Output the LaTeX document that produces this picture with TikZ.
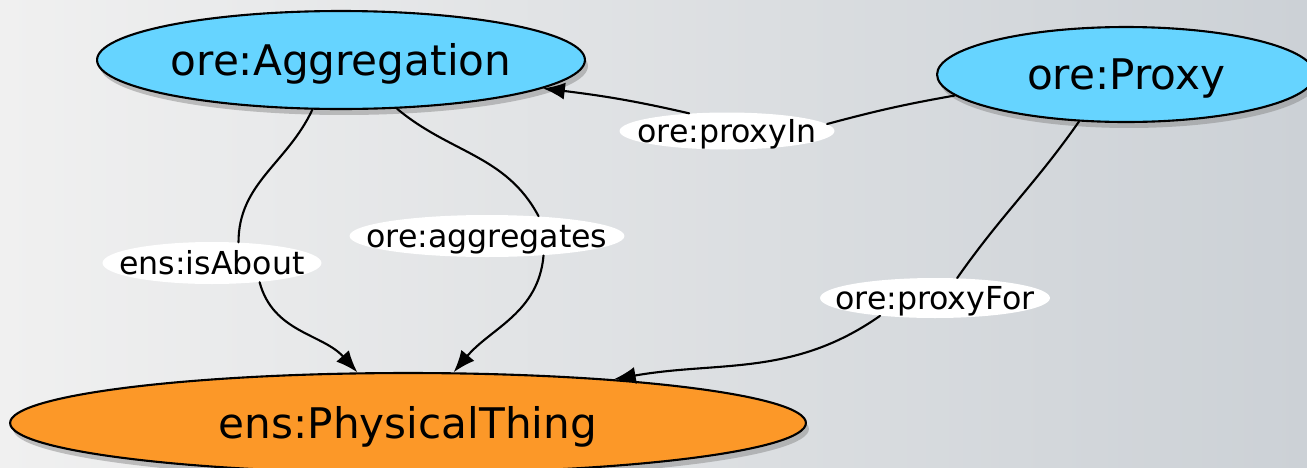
\documentclass[tikz,border=0pt]{standalone}
\usepackage{fontspec}
\setmainfont{DejaVu Sans}
\usepackage{tikz}
\usetikzlibrary{shapes.geometric,arrows.meta,shadows}
\definecolor{classblue}{RGB}{102,212,255}
\definecolor{thingorange}{RGB}{252,152,40}
\definecolor{photolight}{RGB}{240,240,240}
\definecolor{photodark}{RGB}{204,209,214}
\tikzset{>={Latex[length=0.44cm,width=0.34cm]}}
\tikzset{
	classnode/.style={ellipse,draw=black,line width=1.2pt,fill=classblue,inner xsep=-3cm,inner ysep=-1cm,
		text height=17.5pt,text depth=0pt,font=\fontsize{24}{28}\selectfont,
		drop shadow={shadow xshift=0.06cm,shadow yshift=-0.12cm,opacity=0.45}},
	thingnode/.style={classnode,fill=thingorange},
	propnode/.style={ellipse,fill=white,inner xsep=-3cm,inner ysep=-1cm,
		text height=13.1pt,text depth=0pt,font=\fontsize{18}{21}\selectfont},
	edge/.style={line width=1.2pt}
}

\begin{document}
\begin{tikzpicture}[line cap=round,line join=round,x=0.02cm,y=-0.02cm]
			\useasboundingbox (0,0) rectangle (1307,467);
			\fill[left color=photolight,right color=photodark] (0,0) rectangle (1307,467);
			\node[classnode,minimum width=9.76cm,minimum height=1.96cm] (agg) at (341,60) {ore:Aggregation};
			\node[classnode,minimum width=7.56cm,minimum height=1.9cm] (proxy) at (1126,74.5) {ore:Proxy};
			\node[thingnode,minimum width=15.92cm,minimum height=2cm] (phys) at (408,423) {ens:PhysicalThing};
			\node[propnode,minimum width=4.3cm,minimum height=0.74cm] (proxyin) at (727,131) {ore:proxyIn};
			\node[propnode,minimum width=5.5cm,minimum height=0.84cm] (aggregates) at (487,236) {ore:aggregates};
			\node[propnode,minimum width=4.38cm,minimum height=0.84cm] (isabout) at (212,263) {ens:isAbout};
			\node[propnode,minimum width=4.6cm,minimum height=0.8cm] (proxyfor) at (935,298) {ore:proxyFor};
			\draw[edge] (agg.-120) to[out=-115,in=90] (isabout.38);
			\draw[edge,->] (isabout.-22) to[out=-75,in=132] (phys.135);
			\draw[edge] (agg.-41) to[out=-40,in=118] (aggregates.21);
			\draw[edge,->] (aggregates.-19) to[out=-95,in=50] (phys.48);
			\draw[edge] (proxy.-173) to[out=190,in=15] (proxyin.4);
			\draw[edge,->] (proxyin.155) to[out=167,in=-7] (agg.-8);
			\draw[edge] (proxy.-135) to[out=-125,in=55] (proxyfor.42);
			\draw[edge,->] (proxyfor.-162) to[out=-145,in=10] (phys.12);
		\end{tikzpicture}
\end{document}
